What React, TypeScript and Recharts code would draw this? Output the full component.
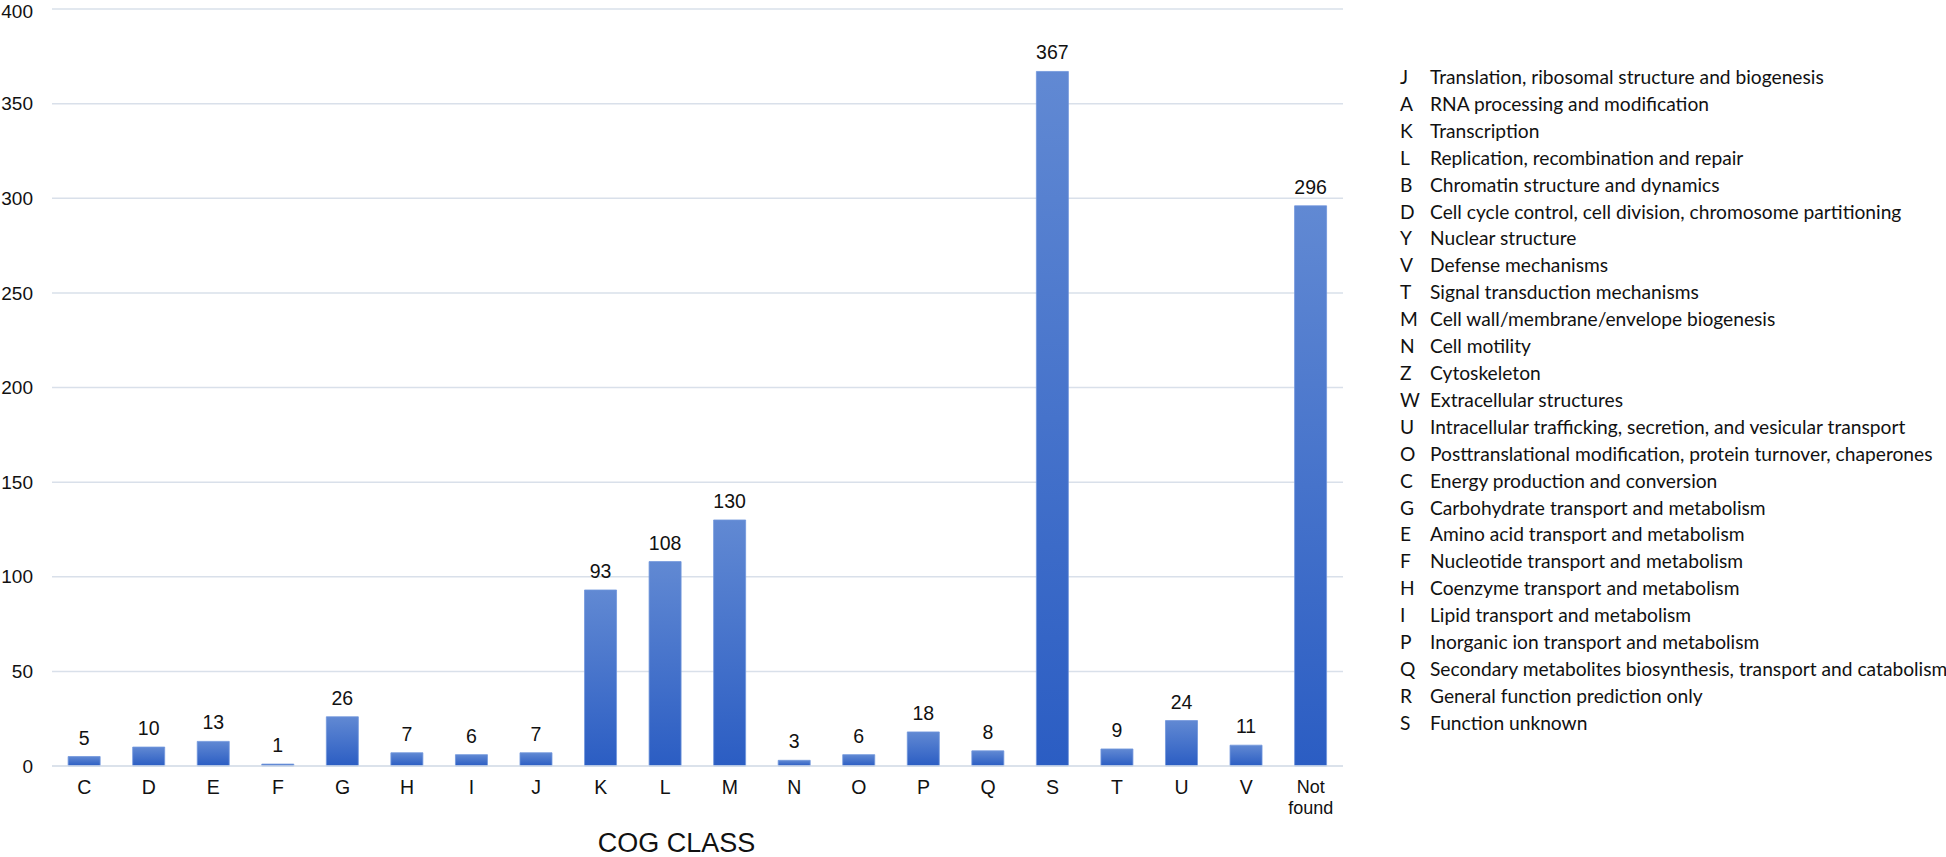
import React from 'react';
import { BarChart, Bar, XAxis, YAxis, CartesianGrid, LabelList } from 'recharts';

const categories = ['C', 'D', 'E', 'F', 'G', 'H', 'I', 'J', 'K', 'L', 'M', 'N', 'O', 'P', 'Q', 'S', 'T', 'U', 'V', 'Not found'];
const counts = [5, 10, 13, 1, 26, 7, 6, 7, 93, 108, 130, 3, 6, 18, 8, 367, 9, 24, 11, 296];
const yTicks = [0, 50, 100, 150, 200, 250, 300, 350, 400];

const cogCodes = ['J', 'A', 'K', 'L', 'B', 'D', 'Y', 'V', 'T', 'M', 'N', 'Z', 'W', 'U', 'O', 'C', 'G', 'E', 'F', 'H', 'I', 'P', 'Q', 'R', 'S'];
const cogNames = [
  'Translation, ribosomal structure and biogenesis',
  'RNA processing and modification',
  'Transcription',
  'Replication, recombination and repair',
  'Chromatin structure and dynamics',
  'Cell cycle control, cell division, chromosome partitioning',
  'Nuclear structure',
  'Defense mechanisms',
  'Signal transduction mechanisms',
  'Cell wall/membrane/envelope biogenesis',
  'Cell motility',
  'Cytoskeleton',
  'Extracellular structures',
  'Intracellular trafficking, secretion, and vesicular transport',
  'Posttranslational modification, protein turnover, chaperones',
  'Energy production and conversion',
  'Carbohydrate transport and metabolism',
  'Amino acid transport and metabolism',
  'Nucleotide transport and metabolism',
  'Coenzyme transport and metabolism',
  'Lipid transport and metabolism',
  'Inorganic ion transport and metabolism',
  'Secondary metabolites biosynthesis, transport and catabolism',
  'General function prediction only',
  'Function unknown',
];

const data = categories.map((c, i) => ({ name: c, count: counts[i] }));

const AXIS_FONT = '"Liberation Sans", Arial, sans-serif';
const GRID = '#d9e0ea';

// two-word categories ("Not found") wrap onto two smaller lines
const XTick = (props: any) => {
  const { x, y, payload } = props;
  const words = String(payload.value).split(' ');
  if (words.length > 1) {
    return (
      <text x={x} y={y} textAnchor="middle" fontFamily={AXIS_FONT} fontSize={18} fill="#111">
        {words.map((w, i) => (
          <tspan key={w} x={x} dy={i === 0 ? 19 : 21}>{w}</tspan>
        ))}
      </text>
    );
  }
  return (
    <text x={x} y={y} dy={20} textAnchor="middle" fontFamily={AXIS_FONT} fontSize={19.5} fill="#111">
      {payload.value}
    </text>
  );
};

export default function App() {
  return (
    <div style={{ position: 'absolute', left: 0, top: 0, width: 1946, height: 857, background: '#fff' }}>
      <BarChart
        width={1946}
        height={857}
        data={data}
        margin={{ top: 9, right: 603, bottom: 0, left: 0 }}
        barCategoryGap="25%"
      >
        <defs>
          <linearGradient id="barFill" x1="0" y1="0" x2="0" y2="1">
            <stop offset="0%" stopColor="#6189d3" />
            <stop offset="100%" stopColor="#2b5dc3" />
          </linearGradient>
        </defs>
        <CartesianGrid vertical={false} stroke={GRID} strokeWidth={1.5} />
        <XAxis
          dataKey="name"
          height={91}
          axisLine={{ stroke: GRID, strokeWidth: 1.5 }}
          tickLine={false}
          interval={0}
          tick={<XTick />}
          tickMargin={2}
          label={{ value: 'COG CLASS', position: 'insideBottom', offset: 5, dx: -21, fontSize: 27, fill: '#111', fontFamily: AXIS_FONT }}
        />
        <YAxis
          width={52}
          type="number"
          domain={[0, 400]}
          ticks={yTicks}
          axisLine={false}
          tickLine={false}
          tickSize={6}
          tickMargin={13}
          tick={{ fontSize: 19, fill: '#111', fontFamily: AXIS_FONT }}
        />
        <Bar dataKey="count" fill="url(#barFill)" stroke="#7096dc" strokeWidth={0.8} isAnimationActive={false}>
          <LabelList dataKey="count" position="top" offset={12} fontSize={19.5} fill="#111" fontFamily={AXIS_FONT} />
        </Bar>
      </BarChart>
      <div
        style={{
          position: 'absolute',
          left: 1400,
          top: 64,
          fontFamily: 'Lato, "Open Sans", sans-serif',
          fontSize: 19.2,
          color: '#111',
          lineHeight: '26.9px',
        }}
      >
        {cogCodes.map((code, i) => (
          <div key={code} style={{ display: 'flex', whiteSpace: 'nowrap' }}>
            <span style={{ width: 30, display: 'inline-block' }}>{code}</span>
            <span>{cogNames[i]}</span>
          </div>
        ))}
      </div>
    </div>
  );
}
